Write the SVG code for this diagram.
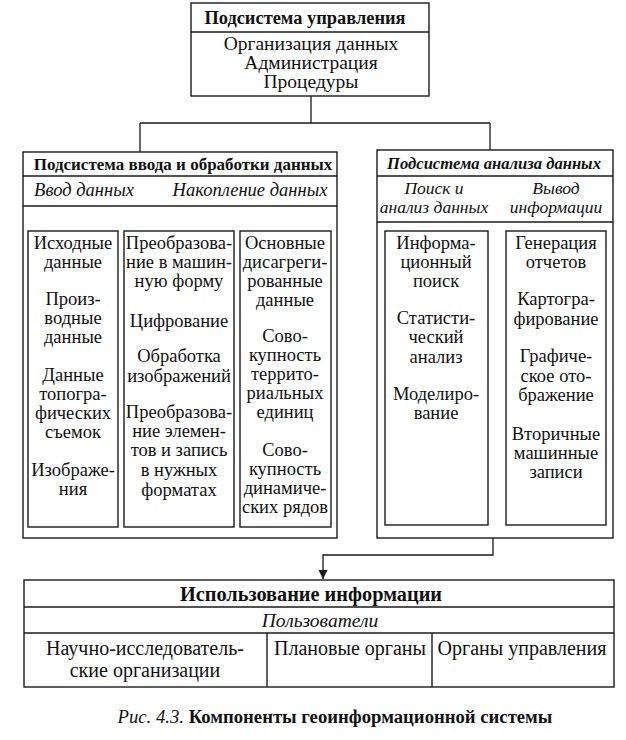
<svg xmlns="http://www.w3.org/2000/svg" width="626" height="740" viewBox="0 0 626 740">
<style>
.b{fill:none;stroke:#1a1a1a;stroke-width:1.4}
.l{fill:none;stroke:#1a1a1a;stroke-width:1.3}
text{font-family:"Liberation Serif","Times New Roman",serif;fill:#111;text-anchor:middle}
.t{font-size:18.5px}
.tb{font-size:19.5px}
.bl{font-size:20px}
.h{font-size:18.4px;font-weight:bold}
.h2{font-size:17px;font-weight:bold}
.hb{font-size:20.3px;font-weight:bold}
.hi{font-size:16.6px;font-weight:bold;font-style:italic}
.i{font-size:18.5px;font-style:italic}
.ia{font-size:17.5px;font-style:italic}
.iu{font-size:19.5px;font-style:italic}
.cap{font-size:18.7px}
</style>
<defs>
<marker id="arr" viewBox="0 0 10 10" refX="10" refY="5" markerWidth="9" markerHeight="11" markerUnits="userSpaceOnUse" orient="auto">
<path d="M0,0 L10,5 L0,10 z" fill="#1a1a1a"/>
</marker>
</defs>
<rect width="626" height="740" fill="#fff"/>
<g id="connectors">
<path class="l" d="M311,96 V123 M140,123 H490 M140,123 V152 M490,123 V150"/>
<path class="l" d="M493,538 V555 H323 V579" marker-end="url(#arr)"/>
</g>
<g id="control">
<rect class="b" x="191" y="3" width="238" height="93"/>
<line class="b" x1="191" y1="32" x2="429" y2="32"/>
<text class="h" x="305" y="24">Подсистема управления</text>
<text class="tb" x="311" y="50">Организация данных</text>
<text class="tb" x="311" y="69">Администрация</text>
<text class="tb" x="311" y="88">Процедуры</text>
</g>
<g id="input">
<rect class="b" x="23" y="152" width="314" height="386"/>
<line class="b" x1="23" y1="176" x2="337" y2="176"/>
<line class="b" x1="23" y1="206" x2="337" y2="206"/>
<text class="h2" x="183" y="170">Подсистема ввода и обработки данных</text>
<text class="i" x="84" y="196">Ввод данных</text>
<text class="i" x="250" y="196">Накопление данных</text>
</g>
<g id="in-col1">
<rect class="b" x="28" y="231" width="90" height="296"/>
<text class="t"><tspan x="73" y="249">Исходные</tspan><tspan x="73" y="268">данные</tspan><tspan x="73" y="305">Произ-</tspan><tspan x="73" y="324">водные</tspan><tspan x="73" y="343">данные</tspan><tspan x="73" y="381">Данные</tspan><tspan x="73" y="400">топогра-</tspan><tspan x="73" y="419">фических</tspan><tspan x="73" y="438">съемок</tspan><tspan x="73" y="476">Изображе-</tspan><tspan x="73" y="495">ния</tspan></text>
</g>
<g id="in-col2">
<rect class="b" x="124" y="231" width="110" height="296"/>
<text class="t"><tspan x="179" y="249">Преобразова-</tspan><tspan x="179" y="268">ние в машин-</tspan><tspan x="179" y="287">ную форму</tspan><tspan x="179" y="327">Цифрование</tspan><tspan x="179" y="362">Обработка</tspan><tspan x="179" y="382">изображений</tspan><tspan x="179" y="418">Преобразова-</tspan><tspan x="179" y="437">ние элемен-</tspan><tspan x="179" y="456">тов и запись</tspan><tspan x="179" y="476">в нужных</tspan><tspan x="179" y="496">форматах</tspan></text>
</g>
<g id="in-col3">
<rect class="b" x="240" y="231" width="91" height="296"/>
<text class="t"><tspan x="285" y="249">Основные</tspan><tspan x="285" y="268">дисагреги-</tspan><tspan x="285" y="287">рованные</tspan><tspan x="285" y="306">данные</tspan><tspan x="285" y="342">Сово-</tspan><tspan x="285" y="361">купность</tspan><tspan x="285" y="380">террито-</tspan><tspan x="285" y="399">риальных</tspan><tspan x="285" y="418">единиц</tspan><tspan x="285" y="456">Сово-</tspan><tspan x="285" y="475">купность</tspan><tspan x="285" y="494">динамиче-</tspan><tspan x="285" y="513">ских рядов</tspan></text>
</g>
<g id="analysis">
<rect class="b" x="377" y="150" width="236" height="388"/>
<line class="b" x1="377" y1="176" x2="613" y2="176"/>
<line class="b" x1="377" y1="222" x2="613" y2="222"/>
<text class="hi" x="494" y="169">Подсистема анализа данных</text>
<text class="ia"><tspan x="434" y="194">Поиск и</tspan><tspan x="434" y="213">анализ данных</tspan><tspan x="556" y="194">Вывод</tspan><tspan x="556" y="213">информации</tspan></text>
</g>
<g id="an-col1">
<rect class="b" x="385" y="231" width="103" height="294"/>
<text class="t"><tspan x="436" y="249">Информа-</tspan><tspan x="436" y="268">ционный</tspan><tspan x="436" y="287">поиск</tspan><tspan x="436" y="324">Статисти-</tspan><tspan x="436" y="343">ческий</tspan><tspan x="436" y="363">анализ</tspan><tspan x="436" y="400">Моделиро-</tspan><tspan x="436" y="419">вание</tspan></text>
</g>
<g id="an-col2">
<rect class="b" x="506" y="231" width="100" height="294"/>
<text class="t"><tspan x="556" y="249">Генерация</tspan><tspan x="556" y="268">отчетов</tspan><tspan x="556" y="305">Картогра-</tspan><tspan x="556" y="325">фирование</tspan><tspan x="556" y="362">Графиче-</tspan><tspan x="556" y="382">ское ото-</tspan><tspan x="556" y="401">бражение</tspan><tspan x="556" y="440">Вторичные</tspan><tspan x="556" y="459">машинные</tspan><tspan x="556" y="478">записи</tspan></text>
</g>
<g id="usage">
<rect class="b" x="24" y="580" width="590" height="107"/>
<line class="b" x1="24" y1="607" x2="614" y2="607"/>
<line class="b" x1="24" y1="633" x2="614" y2="633"/>
<line class="b" x1="267" y1="633" x2="267" y2="687"/>
<line class="b" x1="432" y1="633" x2="432" y2="687"/>
<text class="hb" x="311" y="601">Использование информации</text>
<text class="iu" x="320" y="627">Пользователи</text>
<text class="bl"><tspan x="145" y="655">Научно-исследователь-</tspan><tspan x="145" y="677">ские организации</tspan></text>
<text class="bl" x="350" y="655">Плановые органы</text>
<text class="bl" x="522" y="655">Органы управления</text>
</g>
<g id="caption">
<text class="cap" x="335" y="723"><tspan font-style="italic">Рис. 4.3. </tspan><tspan font-weight="bold">Компоненты геоинформационной системы</tspan></text>
</g>
</svg>
